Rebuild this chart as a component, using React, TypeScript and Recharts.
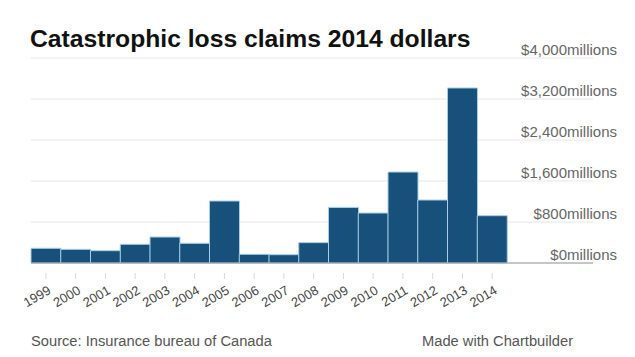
import React from "react";
import { BarChart, Bar, XAxis, YAxis, CartesianGrid, ReferenceLine } from "recharts";

const years = ["1999","2000","2001","2002","2003","2004","2005","2006","2007","2008","2009","2010","2011","2012","2013","2014"];
const losses = [287, 267, 240, 365, 507, 384, 1210, 170, 162, 397, 1085, 975, 1775, 1229, 3415, 923];
const yTicks = [0, 800, 1600, 2400, 3200, 4000];
const yTickLabels = ["$0millions", "$800millions", "$1,600millions", "$2,400millions", "$3,200millions", "$4,000millions"];

const data = years.map((y, i) => ({ year: y, value: losses[i] }));

const FONT = "'Liberation Sans', Arial, Helvetica, sans-serif";

const XTick = (props: any) => {
  const { x, y, payload } = props;
  return (
    <g>
      <line x1={x} x2={x} y1={y + 10} y2={y + 16} stroke="#d8d8d8" strokeWidth={1} />
      <text
        x={x + 6}
        y={y + 30}
        textAnchor="end"
        transform={`rotate(-30, ${x + 6}, ${y + 30})`}
        fontSize={13}
        fill="#444"
        fontFamily={FONT}
      >
        {payload.value}
      </text>
    </g>
  );
};

const YTick = (props: any) => {
  const { y, payload } = props;
  const idx = yTicks.indexOf(payload.value);
  return (
    <text x={617} y={y - 3} textAnchor="end" fontSize={15} fill="#666" fontFamily={FONT}>
      {yTickLabels[idx]}
    </text>
  );
};

export default function App() {
  return (
    <div style={{ position: "absolute", left: 0, top: 0, width: 635, height: 357, background: "#fff", fontFamily: FONT }}>
      <BarChart
        width={635}
        height={357}
        data={data}
        margin={{ top: 58, right: 0, left: 31, bottom: 64 }}
        barCategoryGap={0}
      >
        <CartesianGrid horizontal vertical={false} stroke="#e6e6e6" />
        <XAxis
          dataKey="year"
          axisLine={false}
          tickLine={false}
          tickSize={0}
          tickMargin={0}
          height={30}
          interval={0}
          padding={{ left: 0, right: 86 }}
          tick={<XTick />}
        />
        <YAxis
          orientation="right"
          domain={[0, 4000]}
          ticks={yTicks}
          width={42}
          axisLine={false}
          tickLine={false}
          tick={<YTick />}
        />
        <ReferenceLine y={0} stroke="#999" strokeWidth={1} />
        <Bar dataKey="value" fill="#17507a" stroke="#a9cfe6" strokeWidth={1} isAnimationActive={false} />
      </BarChart>
      <div style={{ position: "absolute", left: 30, top: 25, fontSize: 24.7, fontWeight: "bold", color: "#111", whiteSpace: "nowrap" }}>
        Catastrophic loss claims 2014 dollars
      </div>
      <div style={{ position: "absolute", left: 31, top: 333, fontSize: 14.7, color: "#555", whiteSpace: "nowrap" }}>
        Source: Insurance bureau of Canada
      </div>
      <div style={{ position: "absolute", left: 422, top: 333, fontSize: 14.7, color: "#555", whiteSpace: "nowrap" }}>
        Made with Chartbuilder
      </div>
    </div>
  );
}
